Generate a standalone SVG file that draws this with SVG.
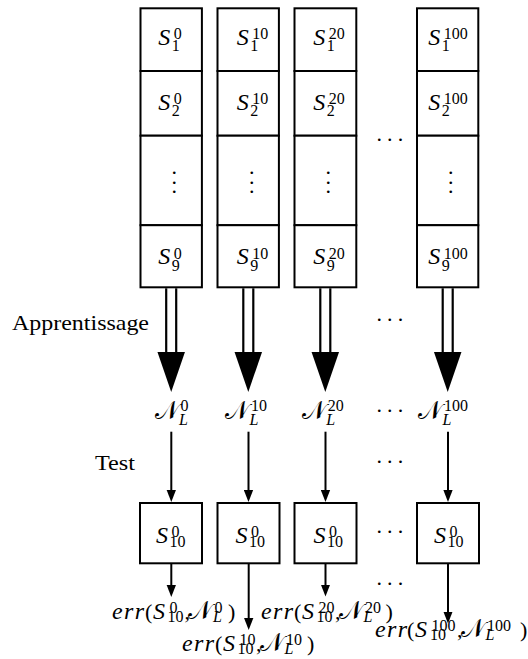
<svg xmlns="http://www.w3.org/2000/svg" width="528" height="659" viewBox="0 0 528 659">
<defs>
<style>
.box{fill:#fff;stroke:#000;stroke-width:2}
.t{font-family:"Liberation Serif","DejaVu Serif",serif;fill:#000}
.mi{font-style:italic;font-size:24px}
.err{font-style:italic;font-size:24px;letter-spacing:1.4px}
.rm{font-size:22px;font-style:normal}
.sc{font-size:16px;font-style:normal}
.sci{font-size:16px;font-style:italic}
.cal{font-family:"DejaVu Serif","DejaVu Sans","Noto Sans",serif;font-size:25px;font-style:normal}
.ln{stroke:#000;stroke-width:2;fill:none}
.dl{stroke:#000;stroke-width:2.2;fill:none}
.dots{font-size:22px;letter-spacing:5.2px}
</style>
<marker id="ah" markerUnits="userSpaceOnUse" markerWidth="12" markerHeight="10" viewBox="0 0 12 9.3" refX="2" refY="4.65" orient="auto"><path d="M0,0 L12,4.65 L0,9.3 z" fill="#000"/></marker>
<path id="bh" d="M-13.75,0 L13.75,0 L0,40 z" fill="#000"/>
</defs>
<rect width="528" height="659" fill="#fff"/>

<!-- connectors -->
<g id="connectors">
<g id="learn1"><line class="dl" x1="166.2" y1="288.3" x2="166.2" y2="352"/><line class="dl" x1="176.2" y1="288.3" x2="176.2" y2="352"/><use href="#bh" x="171.2" y="352"/></g>
<g id="learn2"><line class="dl" x1="243.3" y1="288.3" x2="243.3" y2="352"/><line class="dl" x1="253.3" y1="288.3" x2="253.3" y2="352"/><use href="#bh" x="248.3" y="352"/></g>
<g id="learn3"><line class="dl" x1="320.3" y1="288.3" x2="320.3" y2="352"/><line class="dl" x1="330.3" y1="288.3" x2="330.3" y2="352"/><use href="#bh" x="325.3" y="352"/></g>
<g id="learn4"><line class="dl" x1="442.7" y1="288.3" x2="442.7" y2="352"/><line class="dl" x1="452.7" y1="288.3" x2="452.7" y2="352"/><use href="#bh" x="447.7" y="352"/></g>
<line class="ln" x1="171.3" y1="431.7" x2="171.3" y2="492" marker-end="url(#ah)"/>
<line class="ln" x1="248.5" y1="431.7" x2="248.5" y2="492" marker-end="url(#ah)"/>
<line class="ln" x1="325.5" y1="431.7" x2="325.5" y2="492" marker-end="url(#ah)"/>
<line class="ln" x1="448" y1="431.7" x2="448" y2="492" marker-end="url(#ah)"/>
<line class="ln" x1="171.3" y1="563.3" x2="171.3" y2="587" marker-end="url(#ah)"/>
<line class="ln" x1="248.7" y1="563.3" x2="248.7" y2="620" marker-end="url(#ah)"/>
<line class="ln" x1="325.5" y1="563.3" x2="325.5" y2="586.5" marker-end="url(#ah)"/>
<line class="ln" x1="448" y1="563.3" x2="448" y2="613.5" marker-end="url(#ah)"/>
</g>

<!-- column 0 -->
<g id="c0r1"><rect class="box" x="140.5" y="8.3" width="61.4" height="62.7"/><text class="t"><tspan class="mi" x="158.3" y="44.5">S</tspan><tspan class="sc" x="173.8" y="39">0</tspan><tspan class="sc" x="171.8" y="51">1</tspan></text></g>
<g id="c0r2"><rect class="box" x="140.5" y="71" width="61.4" height="64.7"/><text class="t"><tspan class="mi" x="158.3" y="109.5">S</tspan><tspan class="sc" x="173.8" y="104">0</tspan><tspan class="sc" x="171.8" y="116">2</tspan></text></g>
<g id="c0r3"><rect class="box" x="140.5" y="135.7" width="61.4" height="89.5"/><text class="t rm" text-anchor="middle"><tspan x="174.3" y="174.3">.</tspan><tspan x="174.3" y="183.7">.</tspan><tspan x="174.3" y="193.3">.</tspan></text></g>
<g id="c0r4"><rect class="box" x="140.5" y="225.2" width="61.4" height="62.1"/><text class="t"><tspan class="mi" x="158.3" y="264">S</tspan><tspan class="sc" x="173.8" y="258.5">0</tspan><tspan class="sc" x="171.8" y="270.5">9</tspan></text></g>

<!-- column 10 -->
<g id="c1r1"><rect class="box" x="217.5" y="8.3" width="61.4" height="62.7"/><text class="t"><tspan class="mi" x="236.7" y="44.5">S</tspan><tspan class="sc" x="252.2" y="39">10</tspan><tspan class="sc" x="250.2" y="51">1</tspan></text></g>
<g id="c1r2"><rect class="box" x="217.5" y="71" width="61.4" height="64.7"/><text class="t"><tspan class="mi" x="236.7" y="109.5">S</tspan><tspan class="sc" x="252.2" y="104">10</tspan><tspan class="sc" x="250.2" y="116">2</tspan></text></g>
<g id="c1r3"><rect class="box" x="217.5" y="135.7" width="61.4" height="89.5"/><text class="t rm" text-anchor="middle"><tspan x="251.7" y="174.3">.</tspan><tspan x="251.7" y="183.7">.</tspan><tspan x="251.7" y="193.3">.</tspan></text></g>
<g id="c1r4"><rect class="box" x="217.5" y="225.2" width="61.4" height="62.1"/><text class="t"><tspan class="mi" x="236.7" y="264">S</tspan><tspan class="sc" x="252.2" y="258.5">10</tspan><tspan class="sc" x="250.2" y="270.5">9</tspan></text></g>

<!-- column 20 -->
<g id="c2r1"><rect class="box" x="294.5" y="8.3" width="61.8" height="62.7"/><text class="t"><tspan class="mi" x="313.3" y="44.5">S</tspan><tspan class="sc" x="328.8" y="39">20</tspan><tspan class="sc" x="326.8" y="51">1</tspan></text></g>
<g id="c2r2"><rect class="box" x="294.5" y="71" width="61.8" height="64.7"/><text class="t"><tspan class="mi" x="313.3" y="109.5">S</tspan><tspan class="sc" x="328.8" y="104">20</tspan><tspan class="sc" x="326.8" y="116">2</tspan></text></g>
<g id="c2r3"><rect class="box" x="294.5" y="135.7" width="61.8" height="89.5"/><text class="t rm" text-anchor="middle"><tspan x="328.3" y="174.3">.</tspan><tspan x="328.3" y="183.7">.</tspan><tspan x="328.3" y="193.3">.</tspan></text></g>
<g id="c2r4"><rect class="box" x="294.5" y="225.2" width="61.8" height="62.1"/><text class="t"><tspan class="mi" x="313.3" y="264">S</tspan><tspan class="sc" x="328.8" y="258.5">20</tspan><tspan class="sc" x="326.8" y="270.5">9</tspan></text></g>

<!-- column 100 -->
<g id="c3r1"><rect class="box" x="417" y="8.3" width="61.3" height="62.7"/><text class="t"><tspan class="mi" x="428.3" y="44.5">S</tspan><tspan class="sc" x="443.8" y="39">100</tspan><tspan class="sc" x="441.8" y="51">1</tspan></text></g>
<g id="c3r2"><rect class="box" x="417" y="71" width="61.3" height="64.7"/><text class="t"><tspan class="mi" x="428.3" y="109.5">S</tspan><tspan class="sc" x="443.8" y="104">100</tspan><tspan class="sc" x="441.8" y="116">2</tspan></text></g>
<g id="c3r3"><rect class="box" x="417" y="135.7" width="61.3" height="89.5"/><text class="t rm" text-anchor="middle"><tspan x="450.8" y="174.3">.</tspan><tspan x="450.8" y="183.7">.</tspan><tspan x="450.8" y="193.3">.</tspan></text></g>
<g id="c3r4"><rect class="box" x="417" y="225.2" width="61.3" height="62.1"/><text class="t"><tspan class="mi" x="428.3" y="264">S</tspan><tspan class="sc" x="443.8" y="258.5">100</tspan><tspan class="sc" x="441.8" y="270.5">9</tspan></text></g>

<!-- labels -->
<g id="lbl-apprentissage"><text class="t" x="12" y="330" font-size="22" textLength="137" lengthAdjust="spacingAndGlyphs">Apprentissage</text></g>
<g id="lbl-test"><text class="t" x="95" y="470" font-size="22" textLength="40" lengthAdjust="spacingAndGlyphs">Test</text></g>

<!-- networks -->
<g id="n0"><text class="t"><tspan class="cal" x="154.7" y="419">𝒩</tspan><tspan class="sc" x="180.5" y="411">0</tspan><tspan class="sci" x="179" y="425">L</tspan></text></g>
<g id="n10"><text class="t"><tspan class="cal" x="225.3" y="419">𝒩</tspan><tspan class="sc" x="251.1" y="411">10</tspan><tspan class="sci" x="249.6" y="425">L</tspan></text></g>
<g id="n20"><text class="t"><tspan class="cal" x="302" y="419">𝒩</tspan><tspan class="sc" x="327.8" y="411">20</tspan><tspan class="sci" x="326.3" y="425">L</tspan></text></g>
<g id="n100"><text class="t"><tspan class="cal" x="418.2" y="419">𝒩</tspan><tspan class="sc" x="444" y="411">100</tspan><tspan class="sci" x="442.5" y="425">L</tspan></text></g>

<!-- test sets -->
<g id="t0"><rect class="box" x="140" y="503" width="62" height="60.3"/><text class="t"><tspan class="mi" x="156" y="542.5">S</tspan><tspan class="sc" x="171.5" y="537">0</tspan><tspan class="sc" x="169.5" y="546.5">10</tspan></text></g>
<g id="t10"><rect class="box" x="217.5" y="503" width="62" height="60.3"/><text class="t"><tspan class="mi" x="235.5" y="542.5">S</tspan><tspan class="sc" x="251" y="537">0</tspan><tspan class="sc" x="249" y="546.5">10</tspan></text></g>
<g id="t20"><rect class="box" x="294.5" y="503" width="62" height="60.3"/><text class="t"><tspan class="mi" x="313.5" y="542.5">S</tspan><tspan class="sc" x="329" y="537">0</tspan><tspan class="sc" x="327" y="546.5">10</tspan></text></g>
<g id="t100"><rect class="box" x="417" y="503" width="62" height="60.3"/><text class="t"><tspan class="mi" x="434" y="542.5">S</tspan><tspan class="sc" x="449.5" y="537">0</tspan><tspan class="sc" x="447.5" y="546.5">10</tspan></text></g>

<!-- errors -->
<g id="e0"><text class="t"><tspan class="err" x="112" y="618.5">err</tspan><tspan class="rm" x="145" y="618.5">(</tspan><tspan class="mi" x="153" y="618.5">S</tspan><tspan class="sc" x="169.5" y="612.5">0</tspan><tspan class="sc" x="167.5" y="622">10</tspan><tspan class="rm" x="184.5" y="618.5">,</tspan><tspan class="cal" x="188" y="618.5">𝒩</tspan><tspan class="sc" x="214.5" y="612.5">0</tspan><tspan class="sci" x="213" y="622">L</tspan><tspan class="rm" x="228" y="618.5">)</tspan></text></g>
<g id="e10"><text class="t"><tspan class="err" x="182" y="650.5">err</tspan><tspan class="rm" x="215" y="650.5">(</tspan><tspan class="mi" x="223" y="650.5">S</tspan><tspan class="sc" x="239.5" y="644.5">10</tspan><tspan class="sc" x="237.5" y="654">10</tspan><tspan class="rm" x="256" y="650.5">,</tspan><tspan class="cal" x="259.5" y="650.5">𝒩</tspan><tspan class="sc" x="286" y="644.5">10</tspan><tspan class="sci" x="284.5" y="654">L</tspan><tspan class="rm" x="307" y="650.5">)</tspan></text></g>
<g id="e20"><text class="t"><tspan class="err" x="261" y="618.5">err</tspan><tspan class="rm" x="294" y="618.5">(</tspan><tspan class="mi" x="302" y="618.5">S</tspan><tspan class="sc" x="318.5" y="612.5">20</tspan><tspan class="sc" x="316.5" y="622">10</tspan><tspan class="rm" x="335" y="618.5">,</tspan><tspan class="cal" x="338.5" y="618.5">𝒩</tspan><tspan class="sc" x="365" y="612.5">20</tspan><tspan class="sci" x="363.5" y="622">L</tspan><tspan class="rm" x="385.5" y="618.5">)</tspan></text></g>
<g id="e100"><text class="t"><tspan class="err" x="375" y="636.5">err</tspan><tspan class="rm" x="407" y="636.5">(</tspan><tspan class="mi" x="415" y="636.5">S</tspan><tspan class="sc" x="431.5" y="630.5">100</tspan><tspan class="sc" x="430" y="640">10</tspan><tspan class="rm" x="457" y="636.5">,</tspan><tspan class="cal" x="460.5" y="636.5">𝒩</tspan><tspan class="sc" x="487" y="630.5">100</tspan><tspan class="sci" x="485.5" y="640">L</tspan><tspan class="rm" x="520" y="636.5">)</tspan></text></g>

<!-- ellipses -->
<g id="ellipses" class="t dots">
<text x="376.4" y="141">...</text>
<text x="376.4" y="321">...</text>
<text x="376.4" y="411.7">...</text>
<text x="376.4" y="462.7">...</text>
<text x="376.4" y="533">...</text>
<text x="376.4" y="585">...</text>
</g>
</svg>
